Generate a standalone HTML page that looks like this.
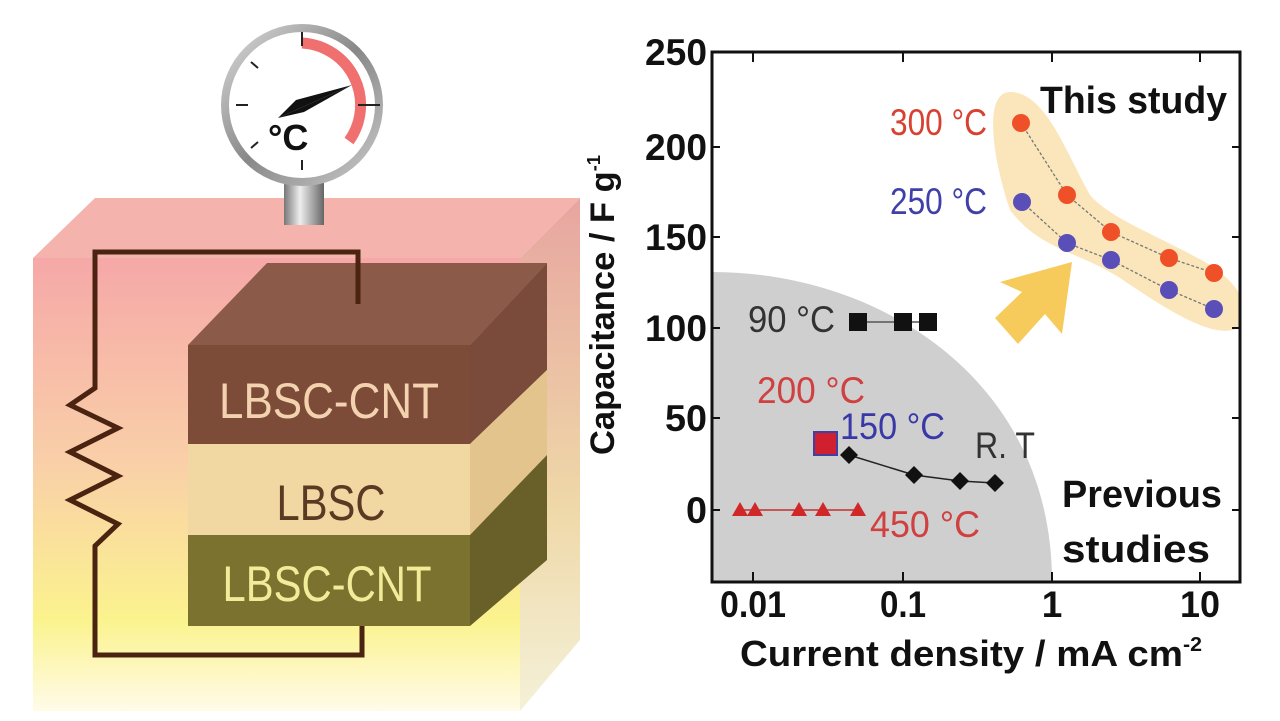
<!DOCTYPE html>
<html><head><meta charset="utf-8"><style>
html,body{margin:0;padding:0;background:#fff}
svg{display:block}
text{font-family:"Liberation Sans",sans-serif}
</style></head><body>
<svg width="1280" height="721" viewBox="0 0 1280 721" xmlns="http://www.w3.org/2000/svg">
<defs>
<linearGradient id="bg" x1="0" y1="0" x2="0" y2="1">
<stop offset="0" stop-color="#f6a8a8"/><stop offset="0.45" stop-color="#f9cfa8"/><stop offset="0.8" stop-color="#fbf38e"/><stop offset="1" stop-color="#fffbe8"/>
</linearGradient>
<linearGradient id="side" x1="0" y1="0" x2="0" y2="1">
<stop offset="0" stop-color="#e7a5a0"/><stop offset="0.6" stop-color="#efd8a8"/><stop offset="1" stop-color="#f4f1d8"/>
</linearGradient>
<linearGradient id="stem" x1="0" y1="0" x2="1" y2="0">
<stop offset="0" stop-color="#777"/><stop offset="0.4" stop-color="#eee"/><stop offset="1" stop-color="#666"/>
</linearGradient>
<linearGradient id="ring" x1="0" y1="0" x2="1" y2="1">
<stop offset="0" stop-color="#ddd"/><stop offset="0.5" stop-color="#888"/><stop offset="1" stop-color="#ccc"/>
</linearGradient>
<clipPath id="plot"><rect x="712" y="52" width="528" height="530"/></clipPath>
</defs>
<!-- box -->
<polygon points="33,258 95,198 580,198 520,258" fill="#f5b3ae"/>
<rect x="33" y="258" width="487" height="453" fill="url(#bg)"/>
<polygon points="520,258 580,198 580,640 520,711" fill="url(#side)"/>
<!-- layers -->
<polygon points="188,345 267,263 547,263 470,345" fill="#8c5a48"/>
<polygon points="470,345 547,263 547,370 470,444" fill="#7a4a3a"/>
<rect x="188" y="345" width="282" height="99" fill="#7d4c38"/>
<rect x="188" y="444" width="282" height="91" fill="#f1d8a3"/>
<polygon points="470,444 547,370 547,455 470,535" fill="#e3c48c"/>
<rect x="188" y="535" width="282" height="91" fill="#7c722f"/>
<polygon points="470,535 547,455 547,560 470,626" fill="#686028"/>
<text x="329" y="418" font-size="50" fill="#f3d2b0" text-anchor="middle" textLength="220" lengthAdjust="spacingAndGlyphs">LBSC-CNT</text>
<text x="331" y="520" font-size="50" fill="#5a3a22" text-anchor="middle" textLength="109" lengthAdjust="spacingAndGlyphs">LBSC</text>
<text x="327" y="601" font-size="50" fill="#f1ec9a" text-anchor="middle" textLength="209" lengthAdjust="spacingAndGlyphs">LBSC-CNT</text>
<!-- circuit -->
<path d="M358,304 V252 H95 V388 L70,405 L118,428 L70,452 L118,476 L70,500 L118,524 L95,546 V655 H362 V626" fill="none" stroke="#4a2410" stroke-width="5"/>
<!-- gauge -->
<rect x="284" y="183" width="40" height="42" fill="url(#stem)"/>
<circle cx="302" cy="105" r="81" fill="url(#ring)"/>
<circle cx="302" cy="105" r="73" fill="#fff"/>
<path d="M302,43 A62,62 0 0 1 349,141" fill="none" stroke="#f07070" stroke-width="11"/>
<g stroke="#222" stroke-width="2">
<line x1="302" y1="32" x2="302" y2="46"/><line x1="236" y1="105" x2="248" y2="105"/><line x1="358" y1="105" x2="380" y2="105"/>
<line x1="251" y1="62" x2="258" y2="68"/><line x1="251" y1="148" x2="258" y2="142"/><line x1="302" y1="160" x2="302" y2="170"/></g>
<polygon points="278,118 352,85 304,112" fill="#111"/>
<polygon points="278,118 352,85 296,100" fill="#111"/>
<text x="268" y="150" font-size="36" font-weight="bold" fill="#111">°C</text>
<!-- y-axis label -->
<text transform="translate(614,455) rotate(-90)" font-size="34" font-weight="bold" fill="#111" textLength="300" lengthAdjust="spacingAndGlyphs">Capacitance / F g<tspan font-size="18" dy="-14">-1</tspan></text>
<!-- plot -->
<rect x="712" y="52" width="528" height="530" fill="#fff"/>
<g clip-path="url(#plot)">
<path d="M712,272 C880,272 1052,380 1052,582 L712,582 Z" fill="#cfcfcf"/>
<path d="M1010,92 C985,92 990,150 1010,210 C1040,250 1080,252 1120,278 C1170,312 1215,340 1238,328 C1255,305 1235,280 1205,262 C1150,232 1110,218 1090,195 C1065,150 1045,92 1010,92 Z" fill="#fbe6bb"/>
<polygon points="995,318 1022,292 1000,282 1072,262 1062,334 1045,314 1018,344" fill="#f7cb5b"/>
</g>
<rect x="712" y="52" width="528" height="530" fill="none" stroke="#111" stroke-width="3"/>
<g stroke="#111" stroke-width="2">
<line x1="712" y1="147" x2="720" y2="147"/><line x1="712" y1="237" x2="720" y2="237"/><line x1="712" y1="328" x2="720" y2="328"/><line x1="712" y1="418" x2="720" y2="418"/><line x1="712" y1="510" x2="720" y2="510"/>
<line x1="1232" y1="147" x2="1240" y2="147"/><line x1="1232" y1="237" x2="1240" y2="237"/><line x1="1232" y1="328" x2="1240" y2="328"/><line x1="1232" y1="418" x2="1240" y2="418"/><line x1="1232" y1="510" x2="1240" y2="510"/>
<line x1="753" y1="582" x2="753" y2="572"/><line x1="903" y1="582" x2="903" y2="572"/><line x1="1052" y1="582" x2="1052" y2="572"/><line x1="1200" y1="582" x2="1200" y2="572"/>
<line x1="753" y1="52" x2="753" y2="62"/><line x1="903" y1="52" x2="903" y2="62"/><line x1="1052" y1="52" x2="1052" y2="62"/><line x1="1200" y1="52" x2="1200" y2="62"/>
</g>
<g font-size="37" font-weight="bold" fill="#111" text-anchor="end">
<text x="707" y="65" textLength="62" lengthAdjust="spacingAndGlyphs">250</text>
<text x="707" y="160" textLength="62" lengthAdjust="spacingAndGlyphs">200</text>
<text x="707" y="250" textLength="62" lengthAdjust="spacingAndGlyphs">150</text>
<text x="707" y="341" textLength="62" lengthAdjust="spacingAndGlyphs">100</text>
<text x="707" y="431" textLength="42" lengthAdjust="spacingAndGlyphs">50</text>
<text x="707" y="523" textLength="21" lengthAdjust="spacingAndGlyphs">0</text>
</g>
<g font-size="37" font-weight="bold" fill="#111" text-anchor="middle">
<text x="753" y="617" textLength="66" lengthAdjust="spacingAndGlyphs">0.01</text>
<text x="903" y="617" textLength="46" lengthAdjust="spacingAndGlyphs">0.1</text>
<text x="1052" y="617">1</text>
<text x="1200" y="617" textLength="40" lengthAdjust="spacingAndGlyphs">10</text>
</g>
<text x="740" y="666" font-size="36" font-weight="bold" fill="#111" textLength="462" lengthAdjust="spacingAndGlyphs">Current density / mA cm<tspan font-size="20" dy="-15">-2</tspan></text>
<!-- series -->
<polyline points="1021,123 1067,195 1111,232 1169,258 1214,273" fill="none" stroke="#777" stroke-width="1.3" stroke-dasharray="3,2"/>
<polyline points="1022,202 1067,243 1111,260 1169,290 1214,309" fill="none" stroke="#777" stroke-width="1.3" stroke-dasharray="3,2"/>
<g fill="#f05028"><circle cx="1021" cy="123" r="9"/><circle cx="1067" cy="195" r="9"/><circle cx="1111" cy="232" r="9"/><circle cx="1169" cy="258" r="9"/><circle cx="1214" cy="273" r="9"/></g>
<g fill="#5a4fb8"><circle cx="1022" cy="202" r="9"/><circle cx="1067" cy="243" r="9"/><circle cx="1111" cy="260" r="9"/><circle cx="1169" cy="290" r="9"/><circle cx="1214" cy="309" r="9"/></g>
<line x1="858" y1="322" x2="928" y2="322" stroke="#555" stroke-width="1.5"/>
<g fill="#111"><rect x="849" y="313" width="18" height="18"/><rect x="894" y="313" width="18" height="18"/><rect x="919" y="313" width="18" height="18"/></g>
<rect x="814" y="432" width="23" height="23" fill="#d02030" stroke="#4040a0" stroke-width="2"/>
<polyline points="849,455 914,475 960,481 995,483" fill="none" stroke="#222" stroke-width="1.5"/>
<g fill="#111"><polygon points="849,446 858,455 849,464 840,455"/><polygon points="914,466 923,475 914,484 905,475"/><polygon points="960,472 969,481 960,490 951,481"/><polygon points="995,474 1004,483 995,492 986,483"/></g>
<line x1="740" y1="510" x2="858" y2="510" stroke="#c03030" stroke-width="1.5"/>
<g fill="#d02828"><polygon points="740,502 748,516 732,516"/><polygon points="755,502 763,516 747,516"/><polygon points="799,502 807,516 791,516"/><polygon points="823,502 831,516 815,516"/><polygon points="858,502 866,516 850,516"/></g>
<!-- labels -->
<g font-size="37">
<text x="890" y="135" fill="#d84030" textLength="97" lengthAdjust="spacingAndGlyphs">300 °C</text>
<text x="890" y="214" fill="#4040a8" textLength="97" lengthAdjust="spacingAndGlyphs">250 °C</text>
<text x="748" y="332" fill="#333" textLength="87" lengthAdjust="spacingAndGlyphs">90 °C</text>
<text x="757" y="403" fill="#d04040" textLength="108" lengthAdjust="spacingAndGlyphs">200 °C</text>
<text x="840" y="439" fill="#3838a8" textLength="105" lengthAdjust="spacingAndGlyphs">150 °C</text>
<text x="975" y="458" fill="#333" textLength="60" lengthAdjust="spacingAndGlyphs">R. T</text>
<text x="870" y="537" fill="#d04040" textLength="110" lengthAdjust="spacingAndGlyphs">450 °C</text>
</g>
<g font-size="38" font-weight="bold" fill="#111">
<text x="1040" y="113" textLength="187" lengthAdjust="spacingAndGlyphs">This study</text>
<text x="1062" y="507" textLength="160" lengthAdjust="spacingAndGlyphs">Previous</text>
<text x="1062" y="562" textLength="148" lengthAdjust="spacingAndGlyphs">studies</text>
</g>
</svg>
</body></html>
